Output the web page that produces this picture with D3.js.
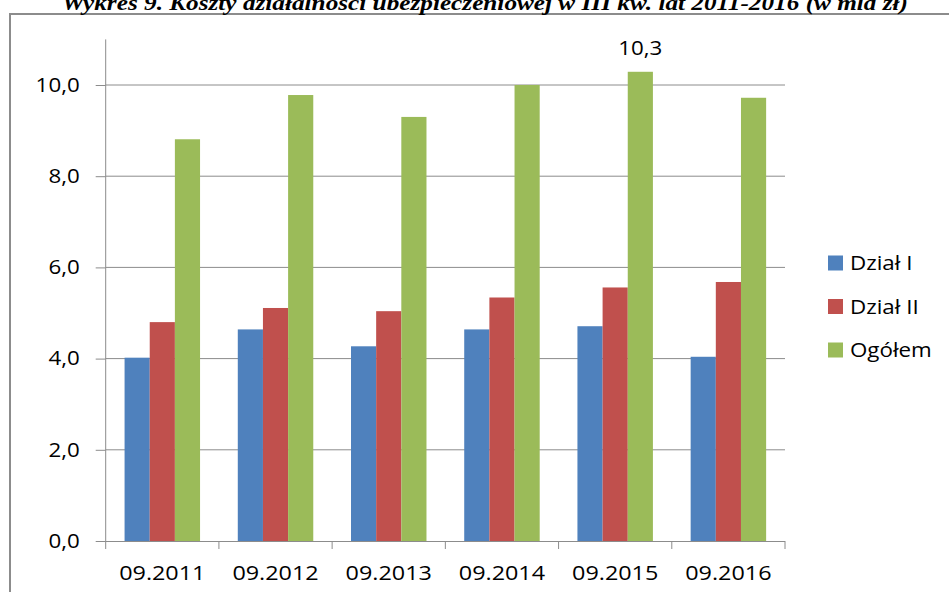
<!DOCTYPE html>
<html>
<head>
<meta charset="utf-8">
<script src="https://cdn.jsdelivr.net/npm/d3@7"></script>
<style>
    body { margin: 0; background: #fff; }
    text { font-family: "Open Sans", "Noto Sans", sans-serif; fill: #000; }
</style>
</head>
<body>
<svg id="chart" width="949" height="592"></svg>
<script>
// chart data
let categories = ['09.2011', '09.2012', '09.2013', '09.2014', '09.2015', '09.2016'];
let seriesNames = ['Dział I', 'Dział II', 'Ogółem'];
let dzial1 = [4.02, 4.64, 4.27, 4.64, 4.71, 4.04];
let dzial2 = [4.80, 5.11, 5.04, 5.34, 5.56, 5.68];
let ogolem = [8.81, 9.78, 9.30, 10.0, 10.29, 9.72];
let yTicks = [0, 2, 4, 6, 8, 10];
let colors = ['#4F81BD', '#C0504D', '#9BBB59'];
let titleText = 'Wykres 9. Koszty działalności ubezpieczeniowej w III kw. lat 2011-2016 (w mld zł)';

let series = [dzial1, dzial2, ogolem];
let stretch = 1.14; // the original text is drawn a bit wide

let svg = d3.select('#chart');

// outer frame, runs off the bottom and right
svg.append('rect')
    .attr('x', 10).attr('y', 14)
    .attr('width', 1000).attr('height', 700)
    .attr('fill', 'none')
    .attr('stroke', '#8c8c8c')
    .attr('stroke-width', 2);

svg.append('text')
    .attr('x', 62).attr('y', 10)
    .attr('textLength', 846)
    .attr('lengthAdjust', 'spacingAndGlyphs')
    .style('font-family', '"Liberation Serif", "Times New Roman", serif')
    .style('font-weight', 'bold')
    .style('font-style', 'italic')
    .style('font-size', '21px')
    .text(titleText);

let left = 105.7, right = 785, bottom = 541;
let unit = 45.6;

let x = d3.scaleBand()
    .domain(categories)
    .range([left, right])
    .padding(0);

let xInner = d3.scaleBand()
    .domain(d3.range(series.length))
    .range([0, x.bandwidth()])
    .paddingInner(0)
    .paddingOuter(0.75);

let y = d3.scaleLinear()
    .domain([0, 11])
    .range([bottom, bottom - 11 * unit]);

// gridlines
svg.append('g')
    .selectAll('line')
    .data(yTicks.filter(d => d > 0))
    .enter().append('line')
    .attr('x1', left).attr('x2', right)
    .attr('y1', d => y(d)).attr('y2', d => y(d))
    .attr('stroke', '#8c8c8c')
    .attr('stroke-width', 1);

// bars
let groups = svg.append('g')
    .selectAll('g')
    .data(series)
    .enter().append('g')
    .attr('fill', (d, i) => colors[i]);

groups.each(function(values, si) {
    d3.select(this).selectAll('rect')
        .data(values)
        .enter().append('rect')
        .attr('x', (d, i) => x(categories[i]) + xInner(si))
        .attr('width', xInner.bandwidth())
        .attr('y', d => y(d))
        .attr('height', d => y(0) - y(d));
});

// y axis
let yAxis = svg.append('g')
    .attr('transform', `translate(${left},0)`)
    .call(d3.axisLeft(y)
        .tickValues(yTicks)
        .tickSize(10)
        .tickPadding(16)
        .tickFormat(d => d3.format('.1f')(d).replace('.', ',')));

yAxis.select('.domain').attr('stroke', '#8c8c8c').attr('d', `M0,${y(11)}V${y(0)}`);
yAxis.selectAll('.tick line').attr('stroke', '#8c8c8c');
yAxis.selectAll('.tick text')
    .attr('x', -26 / stretch)
    .attr('transform', `scale(${stretch},1)`)
    .style('font-size', '19.6px')
    .style('font-family', '"Open Sans", sans-serif');

// x axis: labels centred, ticks on the category borders
let xAxis = svg.append('g')
    .attr('transform', `translate(0,${bottom})`)
    .call(d3.axisBottom(x).tickSize(0).tickPadding(0));

xAxis.select('.domain').attr('stroke', '#8c8c8c').attr('d', `M${left},0.5H${right}`);
xAxis.selectAll('.tick text')
    .attr('y', 39)
    .attr('dy', 0)
    .attr('transform', `scale(${stretch},1)`)
    .attr('x', 0)
    .style('font-size', '20.5px');
xAxis.selectAll('.tick')
    .attr('transform', d => `translate(${(x(d) + x.bandwidth() / 2) / stretch * 0},0)`)
    .each(function(d) {
        d3.select(this).select('text').attr('x', (x(d) + x.bandwidth() / 2) / stretch);
    });

xAxis.append('g')
    .selectAll('line')
    .data(categories.map(c => x(c)).concat([right]))
    .enter().append('line')
    .attr('x1', d => d).attr('x2', d => d)
    .attr('y1', 0).attr('y2', 8)
    .attr('stroke', '#8c8c8c');

// value label on the highest bar
let maxIdx = ogolem.indexOf(d3.max(ogolem));
svg.append('text')
    .attr('transform', `translate(${x(categories[maxIdx]) + xInner(2) + xInner.bandwidth() / 2},55) scale(${stretch},1)`)
    .attr('text-anchor', 'middle')
    .style('font-size', '19.6px')
    .text(d3.format('.1f')(ogolem[maxIdx]).replace('.', ','));

// legend
let legend = svg.append('g')
    .attr('transform', 'translate(828,263)');

let items = legend.selectAll('g')
    .data(seriesNames)
    .enter().append('g')
    .attr('transform', (d, i) => `translate(0,${i * 43.5})`);

items.append('rect')
    .attr('x', 0).attr('y', -7.5)
    .attr('width', 15).attr('height', 15)
    .attr('fill', (d, i) => colors[i]);

items.append('text')
    .attr('transform', `translate(22,7) scale(${stretch},1)`)
    .style('font-size', '19.6px')
    .text(d => d);
</script>
</body>
</html>
